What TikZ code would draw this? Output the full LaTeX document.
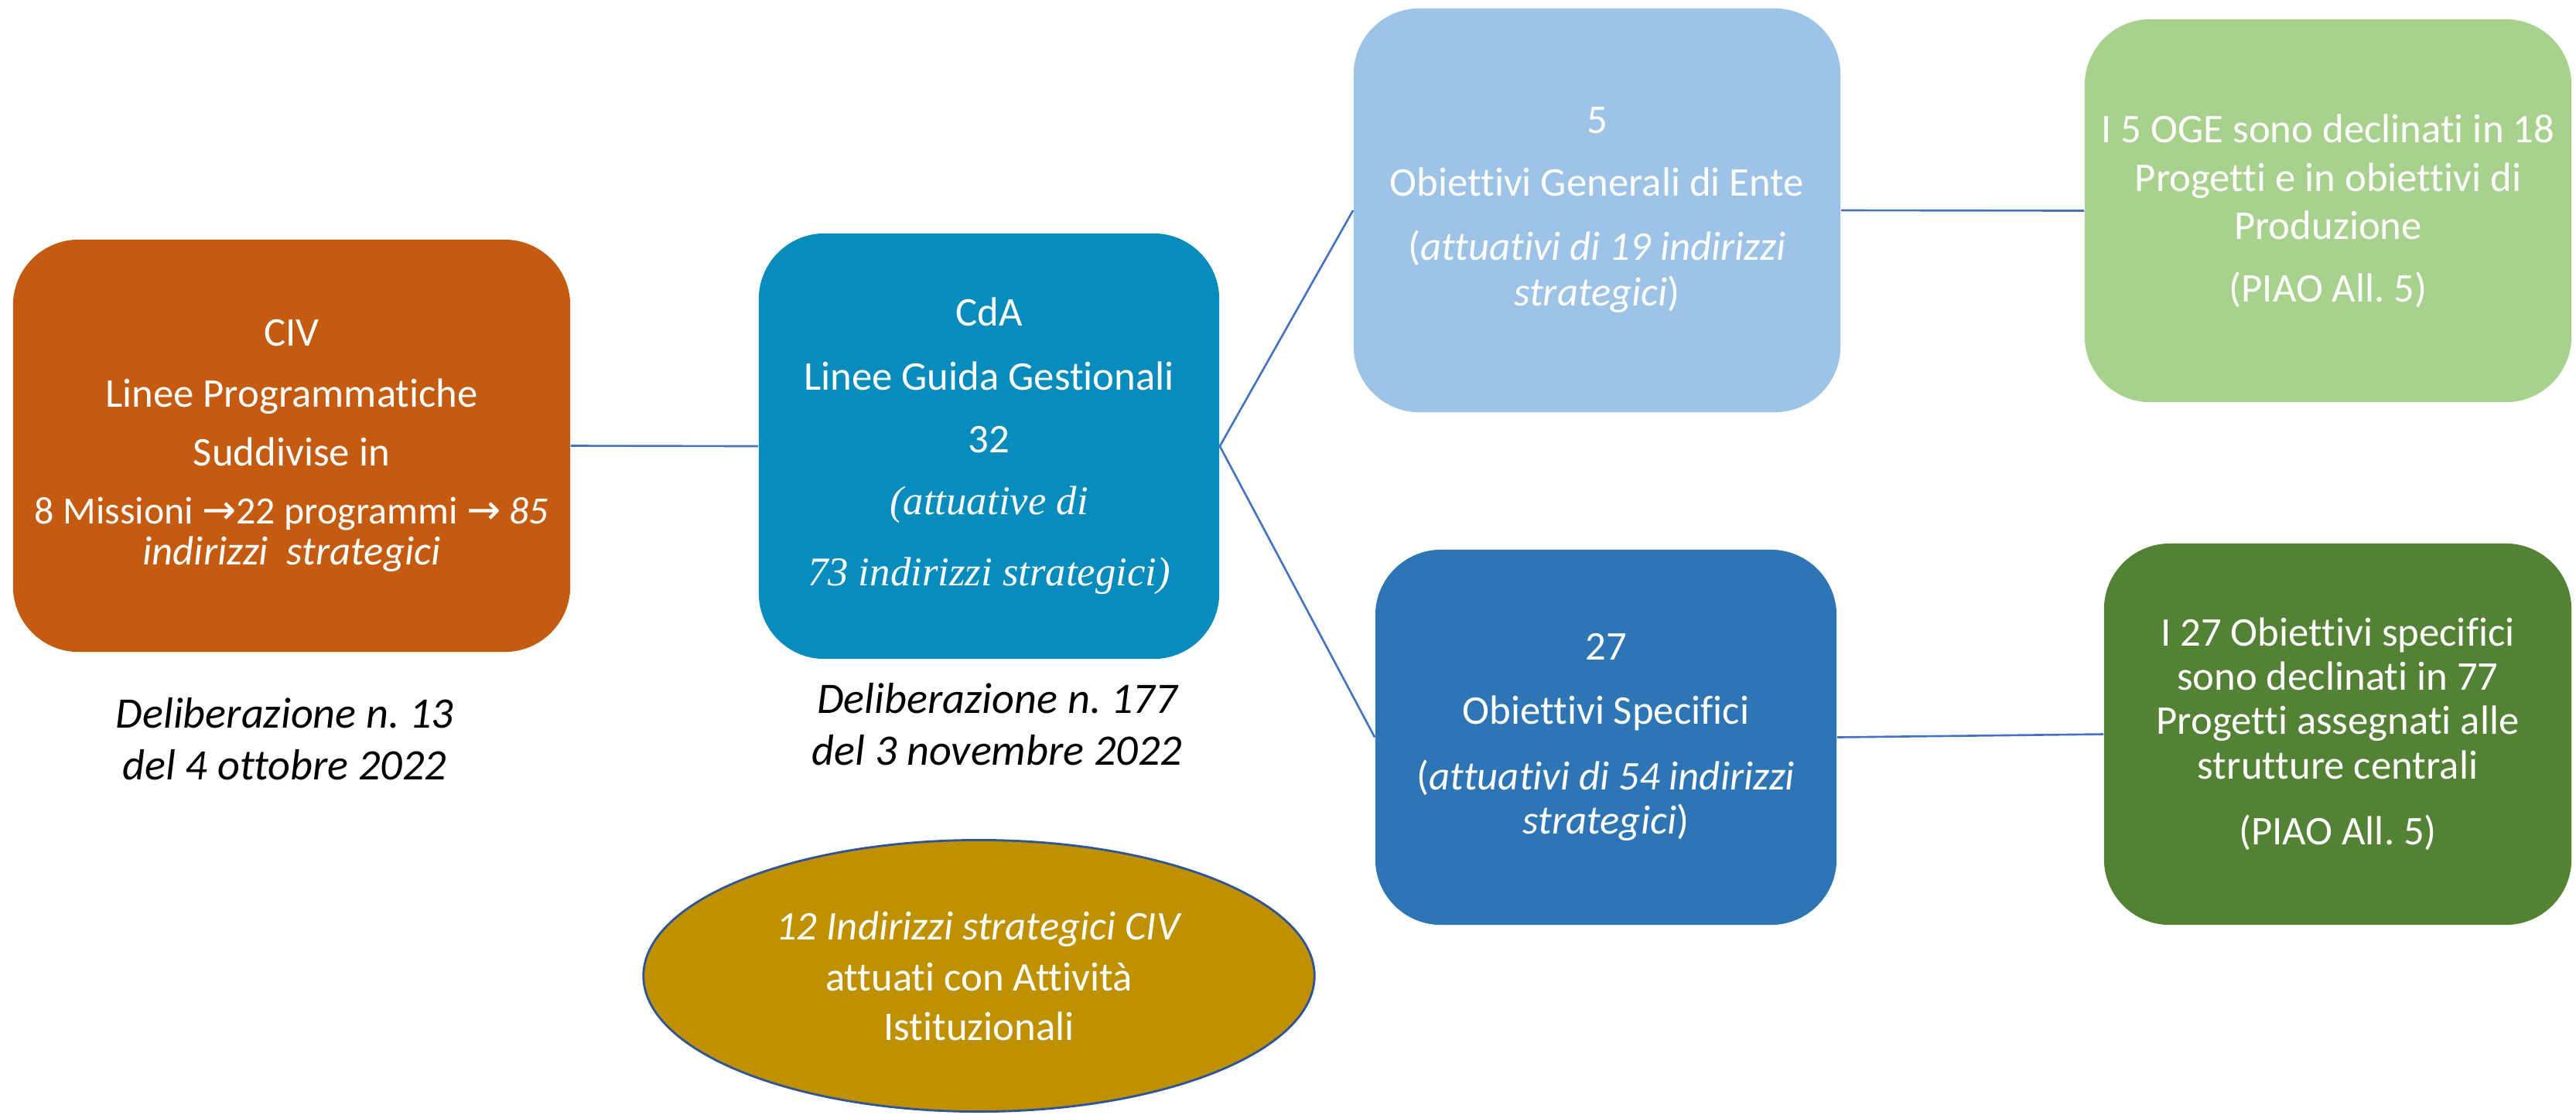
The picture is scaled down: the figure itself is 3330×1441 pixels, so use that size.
\documentclass[tikz,border=0pt]{standalone}
\usepackage{fontspec}
\setmainfont{Carlito}[Ligatures={NoCommon}]
\newfontfamily\serifit{Liberation Serif}
\newfontfamily\arrowfont{DejaVu Sans}
\usetikzlibrary{shapes.geometric}
\definecolor{civc}{HTML}{C55A11}
\definecolor{cdac}{HTML}{088CBE}
\definecolor{ogec}{HTML}{9DC3E6}
\definecolor{glc}{HTML}{A9D18E}
\definecolor{osc}{HTML}{2E75B6}
\definecolor{gdc}{HTML}{548235}
\definecolor{ellc}{HTML}{BF9000}
\definecolor{lnc}{HTML}{4472C4}
\definecolor{elbc}{HTML}{2F5597}
\frenchspacing
\newcommand\boxfont{\fontsize{15}{14.2}\selectfont\lineskiplimit -100pt\relax}
\newcommand\notefont{\fontsize{16}{14.2}\selectfont\itshape\lineskiplimit -100pt\relax}
\newcommand\garit{\serifit\itshape\fontsize{15}{14.2}\selectfont}
\newcommand\arr{{\arrowfont\fontsize{15}{14.2}\selectfont →}}
\newcommand\misfont{\fontsize{14.2}{14.2}\selectfont}
\begin{document}
\begin{tikzpicture}[x=0.01cm,y=-0.01cm,
  box/.style={rounded corners=0.85cm, inner sep=0pt, text=white, align=center, font=\boxfont},
  conn/.style={draw=lnc, line width=0.75pt},
  note/.style={align=center, text=black, font=\notefont}]
\useasboundingbox (0,0) rectangle (3330,1441);

\node[box, fill=civc, minimum width=7.20cm, minimum height=5.33cm] (civ) at (377,576.5)
  {CIV\\[0.29cm]Linee Programmatiche\\[0.26cm]Suddivise in\\[0.25cm]{\misfont 8 Missioni \arr22 programmi \arr{} \textit{85}}\\[0.03cm]\textit{indirizzi\ \ strategici}};

\node[box, fill=cdac, minimum width=5.95cm, minimum height=5.50cm] (cda) at (1278.5,577)
  {CdA\\[0.33cm]Linee Guida Gestionali\\[0.31cm]32\\[0.30cm]{\garit (attuative di}\\[0.42cm]{\garit 73 indirizzi strategici)}};

\node[box, fill=ogec, minimum width=6.29cm, minimum height=5.22cm] (oge) at (2064.5,272)
  {5\\[0.31cm]Obiettivi Generali di Ente\\[0.33cm](\textit{attuativi di 19 indirizzi}\\[0.09cm]\textit{strategici})};

\node[box, fill=glc, minimum width=6.29cm, minimum height=4.95cm] (gl) at (3009.5,272.5)
  {I 5 OGE sono declinati in 18\\[0.13cm]Progetti e in obiettivi di\\[0.12cm]Produzione\\[0.31cm](PIAO All. 5)};

\node[box, fill=osc, minimum width=5.96cm, minimum height=4.85cm] (os) at (2076,953.5)
  {27\\[0.33cm]Obiettivi Specifici\\[0.35cm](\textit{attuativi di 54 indirizzi}\\[0.07cm]\textit{strategici})};

\node[box, fill=gdc, minimum width=6.04cm, minimum height=4.93cm] (gd) at (3022,949.5)
  {I 27 Obiettivi specifici\\[0.07cm]sono declinati in 77\\[0.07cm]Progetti assegnati alle\\[0.08cm]strutture centrali\\[0.35cm](PIAO All. 5)};

\node[ellipse, draw=elbc, line width=0.8pt, fill=ellc, minimum width=8.67cm, minimum height=3.51cm,
  inner sep=0pt, text=white, align=center, font=\boxfont] (ell) at (1265.5,1262)
  {\textit{12 Indirizzi strategici CIV}\\[0.16cm]attuati con Attività\\[0.14cm]Istituzionali};

\node[note] (d1) at (368,956) {Deliberazione n. 13\\[0.17cm]del 4 ottobre 2022};
\node[note] (d2) at (1289,937) {Deliberazione n. 177\\[0.17cm]del 3 novembre 2022};

\draw[conn] (civ.east) -- (cda.west);
\draw[conn] (cda.east) -- (oge.west);
\draw[conn] (cda.east) -- (os.west);
\draw[conn] (oge.east) -- (gl.west);
\draw[conn] (os.east) -- (gd.west);
\end{tikzpicture}
\end{document}
